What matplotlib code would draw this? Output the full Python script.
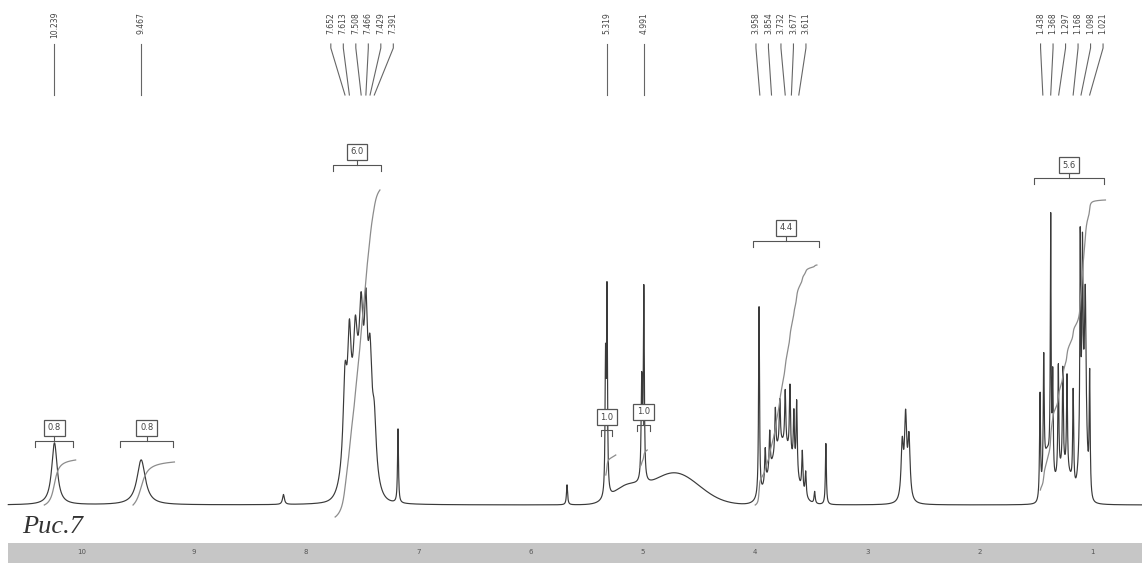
import numpy as np
import matplotlib
matplotlib.use("Agg")
import matplotlib.pyplot as plt

# 1H NMR spectrum (chemical shift in ppm, intensity in arbitrary units)
peak_ppm = [10.239, 9.467, 8.20,
            7.652, 7.613, 7.56, 7.508, 7.466, 7.429, 7.391, 7.18,
            5.675, 5.332, 5.319, 5.01, 4.991,
            3.965, 3.91, 3.87, 3.82, 3.78, 3.732, 3.69, 3.655, 3.63, 3.58, 3.55, 3.47, 3.37,
            2.69, 2.66, 2.63,
            1.463, 1.43, 1.368, 1.35, 1.30, 1.26, 1.223, 1.168, 1.105, 1.085, 1.06, 1.021]
peak_height = [62, 45, 10,
               85, 95, 70, 90, 100, 90, 50, 75,
               20, 130, 200, 100, 190,
               190, 35, 40, 45, 45, 55, 70, 55, 75, 40, 25, 12, 62,
               55, 80, 60,
               105, 120, 250, 100, 110, 100, 95, 95, 200, 160, 140, 120]
peak_width = [0.03, 0.045, 0.01,
              0.02, 0.018, 0.02, 0.02, 0.015, 0.02, 0.02, 0.005,
              0.006, 0.005, 0.005, 0.006, 0.005,
              0.005, 0.006, 0.006, 0.006, 0.006, 0.006, 0.006, 0.006, 0.006, 0.006, 0.006, 0.006, 0.005,
              0.012, 0.012, 0.012,
              0.005, 0.005, 0.004, 0.005, 0.005, 0.005, 0.005, 0.005, 0.004, 0.005, 0.008, 0.005]

# broad underlying humps (center, height, sigma)
hump_ppm = [7.53, 5.15, 4.72, 3.76, 1.40, 1.25, 1.08]
hump_height = [95, 15, 32, 60, 45, 35, 90]
hump_width = [0.085, 0.12, 0.22, 0.1, 0.03, 0.07, 0.028]

# labels printed above the peaks
label_groups = [
    (["10.239"], 10.239),
    (["9.467"], 9.467),
    (["7.652", "7.613", "7.508", "7.466", "7.429", "7.391"], 7.50),
    (["5.319"], 5.319),
    (["4.991"], 4.991),
    (["3.958", "3.854", "3.732", "3.677", "3.611"], 3.77),
    (["1.438", "1.368", "1.297", "1.168", "1.098", "1.021"], 1.18),
]

# integrals: left ppm, right ppm, start level, end level
integ_left = [10.33, 9.54, 7.74, 5.33, 5.03, 4.00, 1.46]
integ_right = [10.05, 9.17, 7.34, 5.24, 4.96, 3.45, 0.88]
integ_start = [0, 0, -12, 30, 38, 0, 15]
integ_end = [45, 43, 315, 50, 55, 240, 305]

# integration brackets: left ppm, right ppm, bracket level, value
brk_left = [10.41, 9.655, 7.76, 5.37, 5.05, 4.02, 1.52]
brk_right = [10.07, 9.18, 7.33, 5.27, 4.94, 3.43, 0.89]
brk_level = [64, 64, 340, 75, 80, 264, 327]
brk_value = ["0.8", "0.8", "6.0", "1.0", "1.0", "4.4", "5.6"]

line_c = "#3a3a3a"

ppm = np.linspace(10.65, 0.555, 8000)
spec = np.zeros_like(ppm)
for p, h, w in zip(peak_ppm, peak_height, peak_width):
    spec += h * w**2 / ((ppm - p) ** 2 + w**2)
for p, h, w in zip(hump_ppm, hump_height, hump_width):
    spec += h * np.exp(-0.5 * ((ppm - p) / w) ** 2)

fig = plt.figure(figsize=(11.42, 5.63), dpi=100)
ax = fig.add_axes([0, 20 / 563, 1, 543 / 563])
ax.set_xlim(10.724, 0.555)
ax.set_ylim(-38, 505)
ax.axis("off")

ax.plot(ppm, spec, color=line_c, lw=0.85)

# integral curves
for l, r, s, e in zip(integ_left, integ_right, integ_start, integ_end):
    m = (ppm <= l) & (ppm >= r)
    cum = np.cumsum(spec[m])
    cum = (cum - cum[0]) / (cum[-1] - cum[0])
    ax.plot(ppm[m], s + cum * (e - s), color="#8c8c8c", lw=0.9)

# integration brackets
for l, r, lev, v in zip(brk_left, brk_right, brk_level, brk_value):
    ax.plot([l, l, r, r], [lev - 6, lev, lev, lev - 6], color="#555555", lw=0.8)
    c = (l + r) / 2
    ax.plot([c, c], [lev, lev + 5], color="#555555", lw=0.8)
    ax.text(c, lev + 13, v, ha="center", va="center", fontsize=6, color="#444444",
            bbox=dict(boxstyle="square,pad=0.45", fc="white", ec="#555555", lw=0.9))

# peak labels at the top
px = 112.3  # pixels per ppm
for labels, center in label_groups:
    n = len(labels)
    sp = 12.5 / px
    for i, lab in enumerate(labels):
        lx = center + (n - 1) / 2 * sp - i * sp
        target = float(lab)
        ax.text(lx, 493, lab, rotation=90, ha="center", va="top", fontsize=5.5, color="#444444")
        ax.plot([lx, lx, target], [461, 457, 410], color="#666666", lw=0.8)

ax.text(10.53, -22, "Рис.7", fontsize=19, family="Liberation Serif", style="italic",
        color="#333333", ha="left", va="center")

# scale bar at the bottom
bx = fig.add_axes([8 / 1142, 0, 1 - 8 / 1142, 20 / 563])
bx.set_facecolor("#c6c6c6")
bx.set_xlim(10.653, 0.555)
bx.set_ylim(0, 1)
for s in bx.spines.values():
    s.set_visible(False)
bx.set_xticks([])
bx.set_yticks([])
for t in range(1, 11):
    bx.text(t, 0.55, str(t), ha="center", va="center", fontsize=5, color="#555555")

fig.savefig("out.png", dpi=100)
